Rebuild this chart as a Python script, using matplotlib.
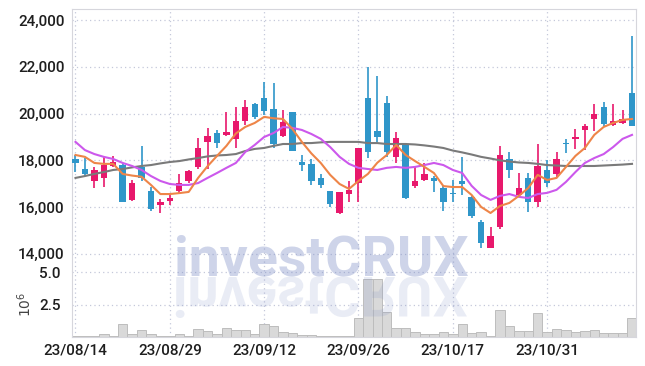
import numpy as np
import matplotlib
matplotlib.use('Agg')
import matplotlib.pyplot as plt
from matplotlib.textpath import TextPath
from matplotlib.patches import PathPatch
from matplotlib.font_manager import FontProperties
from matplotlib.ticker import FuncFormatter
import matplotlib.transforms as mtransforms

# trading days shown on the chart
dates = ['23/08/14', '23/08/16', '23/08/17', '23/08/18', '23/08/21', '23/08/22', '23/08/23', '23/08/24',
         '23/08/25', '23/08/28', '23/08/29', '23/08/30', '23/08/31', '23/09/01', '23/09/04', '23/09/05',
         '23/09/06', '23/09/07', '23/09/08', '23/09/11', '23/09/12', '23/09/13', '23/09/14', '23/09/15',
         '23/09/18', '23/09/19', '23/09/20', '23/09/21', '23/09/22', '23/09/25', '23/09/26', '23/09/27',
         '23/10/04', '23/10/05', '23/10/06', '23/10/10', '23/10/11', '23/10/12', '23/10/13', '23/10/16',
         '23/10/17', '23/10/18', '23/10/19', '23/10/20', '23/10/23', '23/10/24', '23/10/25', '23/10/26',
         '23/10/27', '23/10/30', '23/10/31', '23/11/01', '23/11/02', '23/11/03', '23/11/06', '23/11/07',
         '23/11/08', '23/11/09', '23/11/10', '23/11/13']

opens = [18050, 17650, 17100, 17250, 17750, 17800, 16300, 17700, 16700, 16100,
         16250, 16700, 17100, 17700, 18800, 19150, 19100, 18900, 19700, 20400,
         20650, 20200, 19050, 20050, 17950, 17850, 17250, 16700, 15750, 16550,
         17050, 20650, 19250, 20450, 18150, 18650, 16900, 17150, 17250, 16800,
         16600, 17100, 16450, 15350, 14250, 15150, 18050, 16500, 17250, 16200,
         17600, 17400, 18750, 18900, 19300, 19750, 20300, 19500, 19600, 20900]
highs = [18250, 18100, 17700, 18150, 18200, 17900, 17150, 18600, 16850, 16350,
         16600, 17400, 17600, 18950, 19400, 19300, 20050, 20300, 20600, 20450,
         21350, 21300, 20150, 20050, 18250, 18050, 17400, 16700, 16650, 17100,
         18550, 22000, 21600, 20750, 19200, 18750, 17700, 17900, 17350, 16950,
         17150, 18150, 16500, 15450, 15150, 18600, 18350, 17450, 17450, 18700,
         18000, 18350, 18900, 19350, 19550, 20400, 20500, 20400, 20150, 23300]
lows = [17500, 17350, 16800, 16850, 17700, 16200, 16250, 17100, 15850, 15750,
        16100, 16600, 17050, 17650, 17650, 18550, 19050, 18550, 19500, 19750,
        19950, 18550, 19000, 18400, 17550, 16950, 16800, 16000, 15700, 16200,
        16200, 18100, 18800, 18150, 17900, 16350, 16800, 17100, 16650, 15850,
        16200, 16500, 15550, 14250, 14250, 15050, 17250, 16450, 15800, 16000,
        16850, 17300, 18300, 18500, 18450, 19250, 19450, 19450, 19550, 19450]
closes = [17900, 17400, 17600, 17800, 17950, 16200, 17050, 17250, 15900, 16200,
          16400, 17050, 17550, 18550, 19050, 18750, 19200, 19700, 20300, 19850,
          20100, 18700, 19650, 18400, 17800, 17100, 16950, 16150, 16650, 16750,
          18550, 18350, 19000, 18350, 18950, 16400, 17100, 17400, 17100, 16200,
          16550, 17000, 15600, 14450, 14750, 18250, 17600, 16800, 16200, 17750,
          17050, 18050, 18700, 19000, 19450, 20000, 19550, 19700, 19750, 19450]

# moving averages as drawn on the chart
ma_short = [18230, 18150, 17890, 17850, 17850, 17420, 17350, 17300, 16950, 16560,
            16560, 16600, 16650, 17250, 17750, 18190, 18620, 19150, 19430, 19600,
            19860, 19800, 19770, 19340, 18790, 18300, 17890, 17380, 16990, 16780,
            17120, 17420, 17900, 18230, 18660, 18230, 17970, 17720, 17460, 16900,
            16860, 16860, 16520, 16010, 15750, 16050, 16180, 16480, 16820, 17380,
            17160, 17250, 17720, 18190, 18530, 19090, 19430, 19600, 19730, 19770]
ma_mid = [18790, 18440, 18270, 18150, 18060, 17890, 17760, 17590, 17330, 17120,
          16990, 16950, 16950, 17030, 17250, 17460, 17680, 17890, 18360, 18660,
          19000, 19170, 19430, 19390, 19300, 19130, 18920, 18570, 18150, 17850,
          17680, 17630, 17590, 17680, 17720, 17680, 17720, 17800, 17890, 17800,
          17590, 17460, 16910, 16520, 16310, 16480, 16560, 16440, 16390, 16560,
          16610, 16740, 17080, 17500, 17890, 18100, 18270, 18570, 18920, 19090]
ma_long = [17250, 17330, 17420, 17500, 17590, 17630, 17700, 17760, 17800, 17870,
           17930, 17970, 18040, 18100, 18170, 18210, 18230, 18270, 18400, 18490,
           18530, 18620, 18700, 18700, 18740, 18740, 18770, 18790, 18790, 18790,
           18790, 18740, 18740, 18700, 18700, 18700, 18680, 18640, 18590, 18530,
           18420, 18340, 18250, 18150, 18080, 18000, 17950, 17910, 17890, 17850,
           17800, 17780, 17760, 17760, 17760, 17760, 17780, 17800, 17820, 17850]

# volume in millions of shares
volume = [0.05, 0.1, 0.1, 0.2, 0.1, 0.97, 0.2, 0.51, 0.2, 0.1,
          0.1, 0.2, 0.1, 0.64, 0.44, 0.2, 0.72, 0.51, 0.51, 0.2,
          0.97, 0.82, 0.38, 0.28, 0.13, 0.13, 0.05, 0.1, 0.1, 0.05,
          1.49, 4.49, 4.49, 1.97, 0.72, 0.72, 0.36, 0.26, 0.26, 0.36,
          0.2, 0.97, 0.31, 0.36, 0.1, 2.1, 0.82, 0.44, 0.44, 1.87,
          0.36, 0.59, 0.51, 0.36, 0.44, 0.51, 0.28, 0.28, 0.28, 1.49]

price_ticks = [14000, 16000, 18000, 20000, 22000, 24000]
vol_ticks = [2.5, 5.0]
date_tick_idx = [0, 10, 20, 30, 40, 50]

RED = '#e8186c'
BLUE = '#2f96c9'
GRID = '#c4c8da'
SPINE = '#d6d6dc'
TXT = '#1e1e1e'
FONT = ['Liberation Sans Narrow', 'Roboto', 'DejaVu Sans']

plt.rcParams['font.family'] = FONT

fig = plt.figure(figsize=(6.45, 3.66), dpi=100)
ax = fig.add_axes([0.1112, 0.2596, 0.8748, 0.7150])
axv = fig.add_axes([0.1112, 0.0792, 0.8748, 0.1804], sharex=ax)

x = np.arange(len(closes))
o = np.array(opens)
c = np.array(closes)
up = c >= o
colors = np.where(up, RED, BLUE)

#candles
ax.vlines(x, lows, highs, colors=colors, lw=1.2, zorder=2)
body_low = np.minimum(o, c)
body_h = np.maximum(np.abs(c - o), 45)
ax.bar(x, body_h, bottom=body_low, width=0.68, color=colors, linewidth=0, zorder=3)

#moving averages
ax.plot(x, ma_long, color='#7a7a7a', lw=1.5, zorder=4)
ax.plot(x, ma_mid, color='#cc58ec', lw=1.5, zorder=4)
ax.plot(x, ma_short, color='#ee8548', lw=1.5, zorder=5)

ax.set_xlim(-0.4, len(closes) - 0.58)
ax.set_ylim(13270, 24460)
ax.set_yticks(price_ticks)
ax.yaxis.set_major_formatter(FuncFormatter(lambda v, p: '{:,.0f}'.format(v)))
ax.set_xticks(date_tick_idx)
ax.tick_params(axis='x', labelbottom=False, length=0)
ax.tick_params(axis='y', length=0, pad=5, labelsize=11, labelcolor=TXT)
for lab in ax.get_yticklabels():
    lab.set_fontweight('medium')
ax.grid(True, color=GRID, linestyle=(0, (1, 2.5)), lw=0.9)
ax.set_axisbelow(True)
for s in ['top', 'left', 'right']:
    ax.spines[s].set_color(SPINE)
ax.spines['bottom'].set_visible(False)

#volume
axv.bar(x, volume, width=1.0, color='#d9d9d9', edgecolor='#bdbdbd', linewidth=0.7, zorder=2)
axv.set_ylim(0, 5.1)
axv.set_yticks(vol_ticks)
axv.set_yticklabels(['{:.1f}'.format(v) for v in vol_ticks], fontweight='medium')
axv.set_xticks(date_tick_idx)
axv.set_xticklabels([dates[i] for i in date_tick_idx], fontweight='medium')
axv.tick_params(axis='x', length=0, pad=5, labelsize=11, labelcolor=TXT)
axv.tick_params(axis='y', length=0, pad=8, labelsize=11, labelcolor=TXT)
axv.grid(True, color=GRID, linestyle=(0, (1, 2.5)), lw=0.9)
axv.set_axisbelow(True)
axv.set_ylabel(r'$10^6$', fontsize=10, color='#444444', family='DejaVu Sans')
axv.yaxis.set_label_coords(-0.066, 0.5)
for s in ['bottom', 'left', 'right']:
    axv.spines[s].set_color(SPINE)
axv.spines['top'].set_visible(False)

#watermark + reflection
wm_size = 40
wm_x = 321.5 / 645
wm_base = 1 - 275 / 366
fig.text(wm_x, wm_base, 'investCRUX', fontsize=wm_size, fontweight='bold',
         ha='center', va='baseline', color='#7f8fc7', alpha=0.38, zorder=10)

fp = FontProperties(family=FONT, weight='bold')
tp = TextPath((0, 0), 'investCRUX', size=wm_size, prop=fp)
ext = tp.get_extents()
w_in = (ext.x1 + ext.x0) / 72.0
tr = (mtransforms.Affine2D().scale(1 / 72.0, -1 / 72.0)
      .translate(wm_x * 6.45 - w_in / 2, (1 - 277 / 366) * 3.66) + fig.dpi_scale_trans)
fig.add_artist(PathPatch(tp, transform=tr, facecolor='#7f8fc7', edgecolor='none', alpha=0.17, zorder=9))

fig.savefig('out.png', dpi=100)
plt.close(fig)
